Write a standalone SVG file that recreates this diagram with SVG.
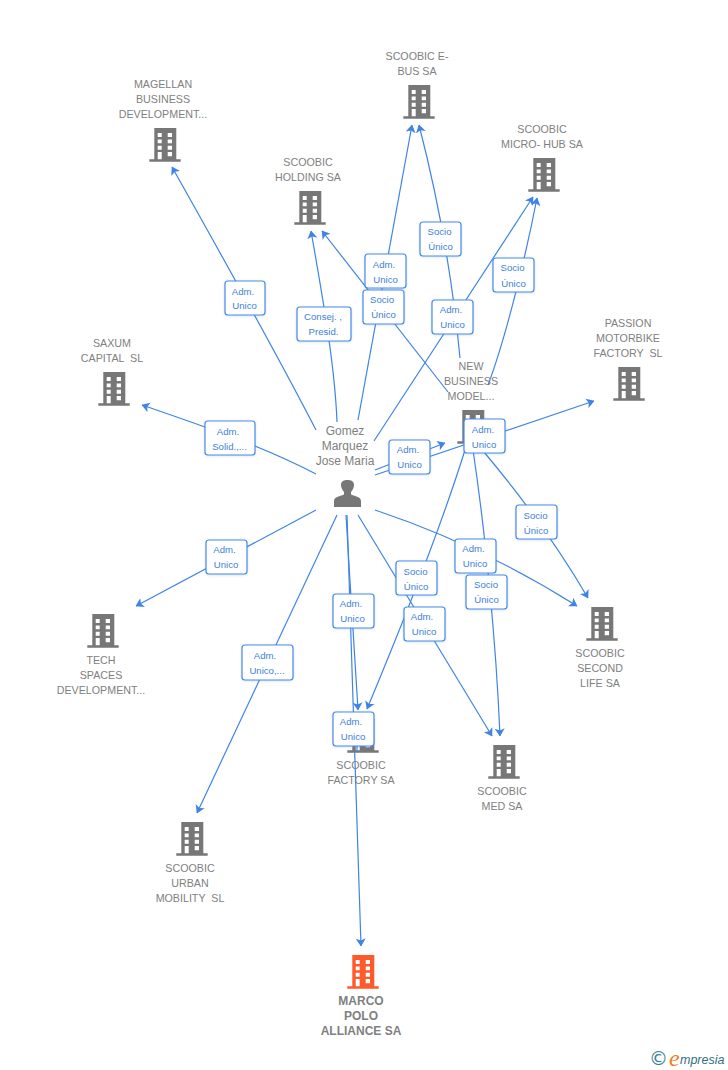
<svg xmlns="http://www.w3.org/2000/svg" width="728" height="1070" viewBox="0 0 728 1070">
<style>
text{font-family:"Liberation Sans",Arial,sans-serif;white-space:pre}
.n{font-size:10.7px;fill:#808080;text-anchor:middle}
.m{font-size:12px;fill:#808080;text-anchor:middle}
.o{font-size:12px;font-weight:bold;fill:#808080;text-anchor:middle}
.e{fill:none;stroke:#3f84e5;stroke-width:1.2;marker-end:url(#a)}
.f{fill:none;stroke:#3f84e5;stroke-width:1.2}
.b{fill:#fff;stroke:#4a8ae6;stroke-width:1.2}
.t{font-size:9.6px;fill:#3f7fd9;text-anchor:middle}
</style>
<defs>
<marker id="a" viewBox="0 0 8 11" refX="7.500" refY="5.500" markerWidth="8" markerHeight="11" markerUnits="userSpaceOnUse" orient="auto"><path d="M0 0.500L8 5.500L0 10.500L2 5.500Z" fill="#3f84e5"/></marker>
<symbol id="bld" viewBox="0 0 32 34" overflow="visible">
<path fill-rule="evenodd" d="M5.300 0H27.300V31.300H31.700V33.700H0.300V31.300H5.300ZM8.700 5V9H12.700V5ZM18.700 5V9H23V5ZM8.700 11.500V15.200H12.700V11.500ZM18.700 11.500V15.200H23V11.500ZM8.700 17.700V21.700H12.700V17.700ZM18.700 17.700V21.700H23V17.700ZM8.700 24V31.300H12.700V24ZM18.700 24V28.300H23V24Z"/>
</symbol>
<filter id="s" x="-10%" y="-10%" width="120%" height="120%"><feDropShadow dx="0" dy="0.600" stdDeviation="0.800" flood-color="#3f84e5" flood-opacity="0.250"/></filter>
</defs>
<rect width="728" height="1070" fill="#fff"/>
<g id="connectors">
<path class="e" d="M316 430C285 370 230 270 172 167"/>
<path class="e" d="M337 422C335 370 325 310 311 231"/>
<path class="e" d="M358 420L412 125"/>
<path class="e" d="M448 392L322 231"/>
<path class="e" d="M460 358Q449 241 419 125"/>
<path class="e" d="M374 441L533 197"/>
<path class="e" d="M488 385C505 340 525 260 537 198"/>
<path class="e" d="M375 470L445 443"/>
<path class="e" d="M375 475L594 401"/>
<path class="e" d="M484 452C520 495 560 550 588 598"/>
<path class="e" d="M375 510C450 535 520 570 577 606"/>
<path class="e" d="M473 450C485 530 496 640 500 736"/>
<path class="e" d="M465 450C440 530 400 630 367 709"/>
<path class="e" d="M358 515L492 736"/>
<path class="e" d="M346 515C350 580 354 650 358 710"/>
<path class="e" d="M347 515L361 946"/>
<path class="e" d="M337 515L197 813"/>
<path class="e" d="M316 510L136 606"/>
<path class="e" d="M316 474C260 445 200 425 142 405"/>
</g>
<g id="n-magellan" fill="#777"><use href="#bld" x="149" y="128" width="32" height="34"/><text class="n" x="163" y="88">MAGELLAN</text><text class="n" x="163" y="103">BUSINESS</text><text class="n" x="163" y="118">DEVELOPMENT...</text></g>
<g id="n-ebus" fill="#777"><use href="#bld" x="403" y="85" width="32" height="34"/><text class="n" x="417" y="60">SCOOBIC E-</text><text class="n" x="417" y="75">BUS SA</text></g>
<g id="n-holding" fill="#777"><use href="#bld" x="294" y="191" width="32" height="34"/><text class="n" x="308" y="166">SCOOBIC</text><text class="n" x="308" y="181">HOLDING SA</text></g>
<g id="n-microhub" fill="#777"><use href="#bld" x="528" y="158" width="32" height="34"/><text class="n" x="542" y="133">SCOOBIC</text><text class="n" x="542" y="148">MICRO- HUB SA</text></g>
<g id="n-passion" fill="#777"><use href="#bld" x="613" y="367" width="32" height="34"/><text class="n" x="628" y="327">PASSION</text><text class="n" x="628" y="342">MOTORBIKE</text><text class="n" x="628" y="357">FACTORY  SL</text></g>
<g id="n-saxum" fill="#777"><use href="#bld" x="98" y="372" width="32" height="34"/><text class="n" x="112" y="347">SAXUM</text><text class="n" x="112" y="362">CAPITAL  SL</text></g>
<g id="n-newbusiness" fill="#777"><use href="#bld" x="457" y="410" width="32" height="34"/><text class="n" x="471" y="370">NEW</text><text class="n" x="471" y="385">BUSINESS</text><text class="n" x="471" y="400">MODEL...</text></g>
<g id="n-tech" fill="#777"><use href="#bld" x="87" y="614" width="32" height="34"/><text class="n" x="101" y="664">TECH</text><text class="n" x="101" y="679">SPACES</text><text class="n" x="101" y="694">DEVELOPMENT...</text></g>
<g id="n-secondlife" fill="#777"><use href="#bld" x="586" y="607" width="32" height="34"/><text class="n" x="600" y="657">SCOOBIC</text><text class="n" x="600" y="672">SECOND</text><text class="n" x="600" y="687">LIFE SA</text></g>
<g id="n-factory" fill="#777"><use href="#bld" x="347" y="719" width="32" height="34"/><text class="n" x="361" y="769">SCOOBIC</text><text class="n" x="361" y="784">FACTORY SA</text></g>
<g id="n-med" fill="#777"><use href="#bld" x="488" y="745" width="32" height="34"/><text class="n" x="502" y="795">SCOOBIC</text><text class="n" x="502" y="810">MED SA</text></g>
<g id="n-urban" fill="#777"><use href="#bld" x="176" y="822" width="32" height="34"/><text class="n" x="190" y="872">SCOOBIC</text><text class="n" x="190" y="887">URBAN</text><text class="n" x="190" y="902">MOBILITY  SL</text></g>
<g id="n-marco" fill="#ff5a2c"><use href="#bld" x="347" y="955" width="32" height="34"/><text class="o" x="361" y="1005">MARCO</text><text class="o" x="361" y="1020">POLO</text><text class="o" x="361" y="1035">ALLIANCE SA</text></g>
<g id="n-person"><text class="m" x="345" y="435">Gomez</text><text class="m" x="345" y="450">Marquez</text><text class="m" x="345" y="465">Jose Maria</text>
<path fill="#777" d="M334 507V501C334 497 339 496.500 344 494.500V492C342 490 341 487 341 485C341 481 344 480 347.500 480C351 480 354 481 354 485C354 487 353 490 351 492V494.500C356 496.500 361 497 361 501V507Z"/></g>
<g id="labels">
<g id="l1"><rect class="b" filter="url(#s)" x="225" y="281" width="40" height="34" rx="3"/><text class="t" x="243" y="295">Adm.</text><text class="t" x="244.500" y="309">Unico</text></g>
<g id="l2"><rect class="b" filter="url(#s)" x="297" y="307" width="54" height="34" rx="3"/><text class="t" x="323" y="320">Consej. ,</text><text class="t" x="323.500" y="335">Presid.</text></g>
<g id="l3"><rect class="b" filter="url(#s)" x="365" y="254" width="41" height="34" rx="3"/><text class="t" x="384" y="268">Adm.</text><text class="t" x="385.500" y="283">Unico</text></g>
<g id="l4"><rect class="b" filter="url(#s)" x="363" y="290" width="41" height="34" rx="3"/><text class="t" x="382" y="303">Socio</text><text class="t" x="383.500" y="318">Único</text></g>
<g id="l5"><rect class="b" filter="url(#s)" x="420" y="222" width="41" height="34" rx="3"/><text class="t" x="439.500" y="235">Socio</text><text class="t" x="440.500" y="250">Único</text></g>
<g id="l6"><rect class="b" filter="url(#s)" x="432" y="300" width="41" height="34" rx="3"/><text class="t" x="451" y="313">Adm.</text><text class="t" x="452.500" y="328">Unico</text></g>
<g id="l7"><rect class="b" filter="url(#s)" x="493" y="258" width="41" height="34" rx="3"/><text class="t" x="512.500" y="271">Socio</text><text class="t" x="513.500" y="287">Único</text></g>
<g id="l8"><rect class="b" filter="url(#s)" x="205" y="421" width="50" height="34" rx="3"/><text class="t" x="228" y="435">Adm.</text><text class="t" x="229.500" y="450">Solid.,...</text></g>
<g id="l9"><rect class="b" filter="url(#s)" x="389" y="440" width="41" height="34" rx="3"/><text class="t" x="408" y="453">Adm.</text><text class="t" x="409.500" y="468">Unico</text></g>
<g id="l10"><rect class="b" filter="url(#s)" x="464" y="419" width="41" height="34" rx="3"/><text class="t" x="483" y="433">Adm.</text><text class="t" x="484" y="448">Unico</text></g>
<g id="l11"><rect class="b" filter="url(#s)" x="516" y="505" width="41" height="34" rx="3"/><text class="t" x="535.500" y="519">Socio</text><text class="t" x="536" y="534">Único</text></g>
<g id="l12"><rect class="b" filter="url(#s)" x="206" y="540" width="41" height="34" rx="3"/><text class="t" x="224.500" y="553">Adm.</text><text class="t" x="226" y="568">Unico</text></g>
<g id="l13"><rect class="b" filter="url(#s)" x="455" y="539" width="41" height="34" rx="3"/><text class="t" x="473.500" y="552">Adm.</text><text class="t" x="475" y="567">Unico</text></g>
<g id="l14"><rect class="b" filter="url(#s)" x="396" y="561" width="41" height="34" rx="3"/><text class="t" x="415.500" y="575">Socio</text><text class="t" x="416" y="590">Único</text></g>
<g id="l15"><rect class="b" filter="url(#s)" x="466" y="575" width="41" height="34" rx="3"/><text class="t" x="486" y="588">Socio</text><text class="t" x="486.500" y="603">Único</text></g>
<g id="l16"><rect class="b" filter="url(#s)" x="333" y="594" width="41" height="34" rx="3"/><text class="t" x="351" y="607">Adm.</text><text class="t" x="352.500" y="622">Unico</text></g>
<g id="l17"><rect class="b" filter="url(#s)" x="404" y="607" width="41" height="34" rx="3"/><text class="t" x="422" y="620">Adm.</text><text class="t" x="424" y="635">Unico</text></g>
<g id="l18"><rect class="b" filter="url(#s)" x="242" y="645" width="51" height="35" rx="3"/><text class="t" x="265" y="659">Adm.</text><text class="t" x="267" y="674">Unico,...</text></g>
<g id="l19"><rect class="b" filter="url(#s)" x="333" y="712" width="41" height="34" rx="3"/><text class="t" x="351" y="725">Adm.</text><text class="t" x="353" y="740">Unico</text></g>
</g>
<path class="f" d="M357 746V752"/>
<g id="logo"><text x="649" y="1065" font-size="19" fill="#3e7f93" style="font-family:'DejaVu Sans',sans-serif">©</text><text x="669" y="1066" font-size="24" font-style="italic" fill="#f47b20" style="font-family:'Liberation Serif',serif">e</text><text x="680" y="1064" font-size="12.500" font-style="italic" fill="#2d6f86">mpresia</text></g>
</svg>
